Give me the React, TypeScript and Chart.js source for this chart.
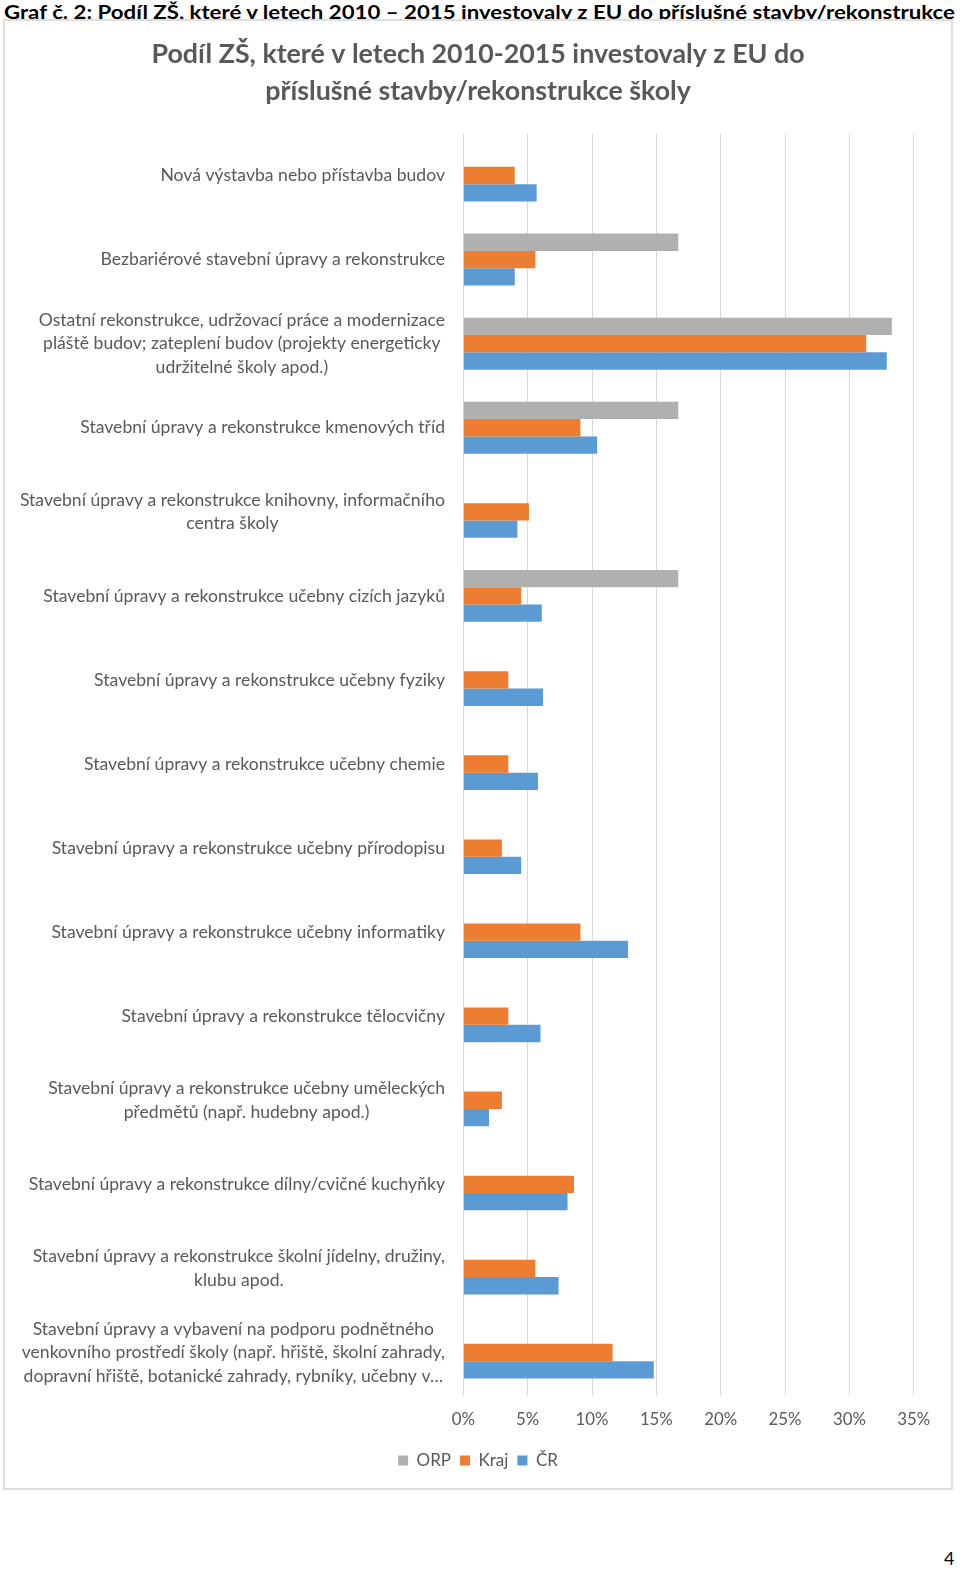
import React, { useEffect, useLayoutEffect, useRef } from 'react';
import { Chart, registerables } from 'chart.js';

Chart.register(...registerables);

const HEADER_TEXT =
  'Graf č. 2: Podíl ZŠ, které v letech 2010 – 2015 investovaly z EU do příslušné stavby/rekonstrukce';
const PAGE_NUMBER = '4';

const titleLines = [
  'Podíl ZŠ, které v letech 2010-2015 investovaly z EU do',
  'příslušné stavby/rekonstrukce školy',
];

const categories: (string | string[])[] = [
  'Nová výstavba nebo přístavba budov',
  'Bezbariérové stavební úpravy a rekonstrukce',
  [
    'Ostatní rekonstrukce, udržovací práce a modernizace',
    'pláště budov; zateplení budov (projekty energeticky',
    'udržitelné školy apod.)',
  ],
  'Stavební úpravy a rekonstrukce kmenových tříd',
  ['Stavební úpravy a rekonstrukce knihovny, informačního', 'centra školy'],
  'Stavební úpravy a rekonstrukce učebny cizích jazyků',
  'Stavební úpravy a rekonstrukce učebny fyziky',
  'Stavební úpravy a rekonstrukce učebny chemie',
  'Stavební úpravy a rekonstrukce učebny přírodopisu',
  'Stavební úpravy a rekonstrukce učebny informatiky',
  'Stavební úpravy a rekonstrukce tělocvičny',
  ['Stavební úpravy a rekonstrukce učebny uměleckých', 'předmětů (např. hudebny apod.)'],
  'Stavební úpravy a rekonstrukce dílny/cvičné kuchyňky',
  ['Stavební úpravy a rekonstrukce školní jídelny, družiny,', 'klubu apod.'],
  [
    'Stavební úpravy a vybavení na podporu podnětného',
    'venkovního prostředí školy (např. hřiště, školní zahrady,',
    'dopravní hřiště, botanické zahrady, rybníky, učebny v…',
  ],
];

const seriesNames = ['ORP', 'Kraj', 'ČR'];
const orpValues = [0, 16.7, 33.3, 16.7, 0, 16.7, 0, 0, 0, 0, 0, 0, 0, 0, 0];
const krajValues = [4.0, 5.6, 31.3, 9.1, 5.1, 4.5, 3.5, 3.5, 3.0, 9.1, 3.5, 3.0, 8.6, 5.6, 11.6];
const crValues = [5.7, 4.0, 32.9, 10.4, 4.2, 6.1, 6.2, 5.8, 4.5, 12.8, 6.0, 2.0, 8.1, 7.4, 14.8];
const seriesColors = ['#B0B0B0', '#ED7D31', '#5B9BD5'];
const xTickValues = [0, 5, 10, 15, 20, 25, 30, 35];

const FONT = 'Lato';
const TEXT_COLOR = '#595959';
const LABEL_SIZE = 17.6;
const LABEL_LINE = 23.5;

const CANVAS_W = 946;
const CANVAS_H = 1468;

const yLabelPlugin = {
  id: 'yLabelPlugin',
  afterDraw(chart: any) {
    const ctx = chart.ctx as CanvasRenderingContext2D;
    const yScale = chart.scales.y;
    const right = chart.chartArea.left - 18.3;
    ctx.save();
    ctx.font = `${LABEL_SIZE}px ${FONT}`;
    ctx.fillStyle = TEXT_COLOR;
    ctx.textAlign = 'center';
    ctx.textBaseline = 'middle';
    categories.forEach((lab, i) => {
      const lines = Array.isArray(lab) ? lab : [lab];
      const w = Math.max(...lines.map((l) => ctx.measureText(l).width));
      const cx = right - w / 2;
      const cy = yScale.getPixelForValue(i);
      lines.forEach((l, j) => {
        ctx.fillText(l, cx, cy + (j - (lines.length - 1) / 2) * LABEL_LINE);
      });
    });
    ctx.restore();
  },
};

export default function App() {
  const canvasRef = useRef<HTMLCanvasElement | null>(null);
  const headerRef = useRef<HTMLSpanElement | null>(null);

  useLayoutEffect(() => {
    const el = headerRef.current;
    if (!el) return;
    const fit = () => {
      el.style.transform = 'none';
      const w = el.getBoundingClientRect().width;
      if (w > 0) el.style.transform = `scaleX(${951 / w})`;
    };
    fit();
    if ((document as any).fonts && (document as any).fonts.ready) {
      (document as any).fonts.ready.then(fit);
    }
  }, []);

  useEffect(() => {
    let chart: Chart | null = null;
    let cancelled = false;
    const build = () => {
      if (cancelled || !canvasRef.current) return;
      chart = new Chart(canvasRef.current, {
        type: 'bar',
        data: {
          labels: categories as any,
          datasets: [
            { label: seriesNames[0], data: orpValues, backgroundColor: seriesColors[0], borderWidth: 0 },
            { label: seriesNames[1], data: krajValues, backgroundColor: seriesColors[1], borderWidth: 0 },
            { label: seriesNames[2], data: crValues, backgroundColor: seriesColors[2], borderWidth: 0 },
          ],
        },
        options: {
          indexAxis: 'y',
          responsive: false,
          animation: false,
          events: [],
          datasets: { bar: { categoryPercentage: 0.618, barPercentage: 1.0 } },
          layout: { padding: { left: 37.25, right: 37.25, top: 0, bottom: 9 } },
          plugins: {
            tooltip: { enabled: false },
            title: {
              display: true,
              text: titleLines,
              color: TEXT_COLOR,
              font: { family: FONT, size: 26.8, weight: 'bold', lineHeight: 37 / 26.8 },
              padding: { top: 16, bottom: 23.5 },
            },
            legend: {
              position: 'bottom',
              labels: {
                boxWidth: 10,
                boxHeight: 10,
                padding: 9,
                color: TEXT_COLOR,
                font: { family: FONT, size: 17 },
              },
            },
          },
          scales: {
            x: {
              type: 'linear',
              position: 'bottom',
              min: 0,
              max: 35,
              afterBuildTicks: (scale: any) => {
                scale.ticks = xTickValues.map((v) => ({ value: v }));
              },
              afterFit: (scale: any) => {
                scale.height = 48.5;
              },
              ticks: {
                color: TEXT_COLOR,
                font: { family: FONT, size: 16.8 },
                padding: 15.5,
                callback: (v: any) => `${v}%`,
              },
              grid: { color: '#d9d9d9', lineWidth: 1, drawTicks: false },
              border: { display: false },
            },
            y: {
              type: 'category',
              grid: { display: false, drawTicks: false },
              border: { display: false },
              ticks: { display: false },
              afterFit: (scale: any) => {
                scale.width = 458.3 - 37.25;
              },
            },
          },
        },
        plugins: [yLabelPlugin],
      });
    };
    const fonts = (document as any).fonts;
    if (fonts && fonts.load) {
      Promise.all([
        fonts.load(`${LABEL_SIZE}px ${FONT}`),
        fonts.load(`bold 27px ${FONT}`),
      ])
        .catch(() => null)
        .then(build);
    } else {
      build();
    }
    return () => {
      cancelled = true;
      if (chart) chart.destroy();
    };
  }, []);

  return (
    <div
      style={{
        position: 'absolute',
        left: 0,
        top: 0,
        width: 960,
        height: 1569,
        overflow: 'hidden',
        background: '#ffffff',
      }}
    >
      <div
        style={{
          position: 'absolute',
          left: 4,
          top: 2.5,
          whiteSpace: 'nowrap',
          fontFamily: FONT,
          fontWeight: 700,
          fontSize: 18,
          lineHeight: '18px',
          color: '#000',
        }}
      >
        <span ref={headerRef} style={{ display: 'inline-block', transformOrigin: 'left top' }}>
          {HEADER_TEXT}
        </span>
      </div>
      <div
        style={{
          position: 'absolute',
          left: 3,
          top: 19,
          width: 950,
          height: 1471,
          boxSizing: 'border-box',
          border: '2px solid #dedede',
          background: '#ffffff',
        }}
      />
      <canvas
        ref={canvasRef}
        width={CANVAS_W}
        height={CANVAS_H}
        style={{ position: 'absolute', left: 5, top: 20, width: CANVAS_W, height: CANVAS_H }}
      />
      <div
        style={{
          position: 'absolute',
          left: 944,
          top: 1549,
          fontFamily: FONT,
          fontSize: 18,
          lineHeight: '18px',
          color: '#000',
        }}
      >
        {PAGE_NUMBER}
      </div>
    </div>
  );
}
